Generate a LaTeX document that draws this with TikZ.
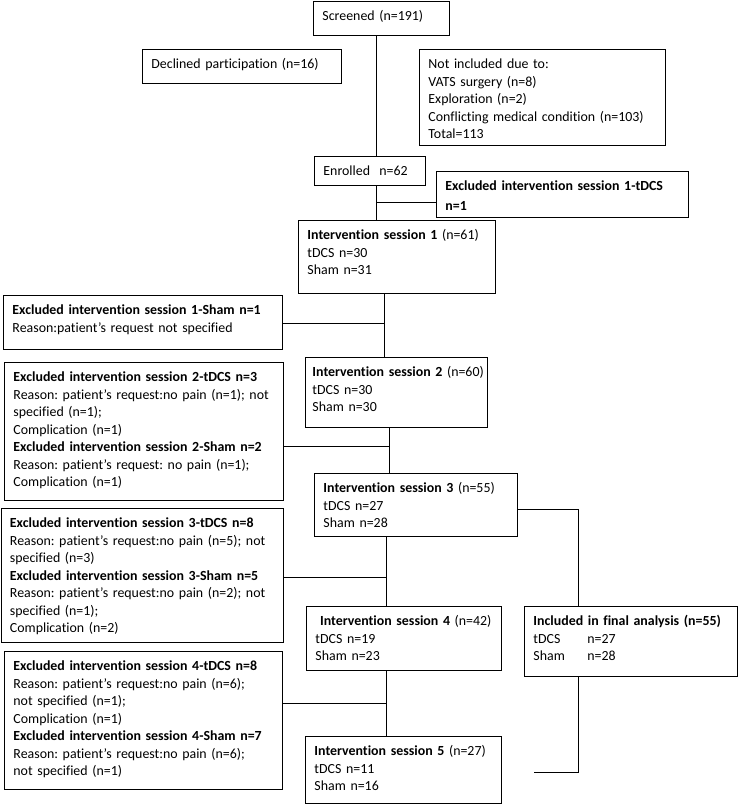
\documentclass[tikz,border=0pt]{standalone}
\usepackage{fontspec}
\setmainfont{Carlito}[Ligatures=NoCommon]

\begin{document}
\begin{tikzpicture}[
        x=1pt, y=-1pt,
        line width=0.9pt,
        box/.style={draw, anchor=north west, align=left, inner xsep=9pt, inner ysep=0pt,
            text height=19.5pt, font=\fontsize{13.9}{17.5}\selectfont\frenchspacing},
        every node/.style={color=black}
    ]
    \useasboundingbox (0,0) rectangle (738,804);

    %% screening and enrolment
    \draw (313,1) node(scr)[box, text width=118pt, text depth=14.5pt]{Screened (n=191)};
    \draw (142,49) node(dec)[box, text width=181pt, text depth=14.5pt]{Declined participation (n=16)};
    \draw (419,49) node(noinc)[box, text width=228pt, text depth=76.5pt]{Not included due to:\\
        VATS surgery (n=8)\\ Exploration (n=2)\\ Conflicting medical condition (n=103)\\ Total=113};
    \draw (314,156) node(enr)[box, text width=93pt, text depth=9.5pt]{Enrolled\ \ n=62};
    \draw (436,171) node(ex1t)[box, text width=234pt, text depth=26.5pt]{\textbf{Excluded intervention session 1-tDCS}\\[2.5pt] \textbf{n=1}};

    %% sessions
    \draw (298,220) node(is1)[box, text width=179pt, text depth=53.5pt]{\textbf{Intervention session 1} (n=61)\\ tDCS n=30\\ Sham n=31};
    \draw (305,357) node(is2)[box, inner xsep=4pt, text width=174pt, text depth=50.5pt]{\hspace*{3pt}\mbox{\textbf{Intervention session 2} (n=60)}\\ \hspace*{3pt}tDCS n=30\\ \hspace*{3pt}Sham n=30};
    \draw (314,473) node(is3)[box, text width=185pt, text depth=43.5pt]{\textbf{Intervention session 3} (n=55)\\ tDCS n=27\\ Sham n=28};
    \draw (306,606) node(is4)[box, text width=177pt, text depth=44.5pt]{\ \textbf{Intervention session 4} (n=42)\\ tDCS n=19\\ Sham n=23};
    \draw (305,736) node(is5)[box, text width=178pt, text depth=47.5pt]{\textbf{Intervention session 5} (n=27)\\ tDCS n=11\\ Sham n=16};
    \draw (524,606) node(fin)[box, text width=194.5pt, text depth=50.5pt]{\textbf{Included in final analysis (n=55)}\\
        \makebox[54pt][l]{tDCS}n=27\\ \makebox[54pt][l]{Sham}n=28};

    %% exclusions
    \draw (3,295) node(ex1s)[box, text width=261pt, text depth=34.5pt]{\textbf{Excluded intervention session 1-Sham n=1}\\
        Reason:patient’s request not specified};
    \draw (4,362) node(ex2)[box, text width=261pt, text depth=118.5pt]{\textbf{Excluded intervention session 2-tDCS n=3}\\
        Reason: patient’s request:no pain (n=1); not\\ specified (n=1);\\ Complication (n=1)\\
        \textbf{Excluded intervention session 2-Sham n=2}\\
        Reason: patient’s request: no pain (n=1);\\ Complication (n=1)};
    \draw (0.5,508) node(ex3)[box, text width=264.5pt, text depth=114.5pt]{\textbf{Excluded intervention session 3-tDCS n=8}\\
        Reason: patient’s request:no pain (n=5); not\\ specified (n=3)\\
        \textbf{Excluded intervention session 3-Sham n=5}\\
        Reason: patient’s request:no pain (n=2); not\\ specified (n=1);\\ Complication (n=2)};
    \draw (4,651) node(ex4)[box, text width=260pt, text depth=118.5pt]{\textbf{Excluded intervention session 4-tDCS n=8}\\
        Reason: patient’s request:no pain (n=6);\\ not specified (n=1);\\ Complication (n=1)\\
        \textbf{Excluded intervention session 4-Sham n=7}\\
        Reason: patient’s request:no pain (n=6);\\ not specified (n=1)};

    %% junctions on the main line
    \coordinate (j1) at (376,202);
    \coordinate (j2) at (384,323);
    \coordinate (j3) at (389,446);
    \coordinate (j4) at (386,577);
    \coordinate (j5) at (386,703);
    \coordinate (r1) at (578,509);
    \coordinate (r2) at (534,772);

    \draw (scr.south -| j1) -- (enr.north -| j1);
    \draw (enr.south -| j1) -- (is1.north -| j1);
    \draw (j1) -- (j1 -| ex1t.west);

    \draw (is1.south -| j2) -- (is2.north -| j2);
    \draw (j2 -| ex1s.east) -- (j2);

    \draw (is2.south -| j3) -- (is3.north -| j3);
    \draw (j3 -| ex2.east) -- (j3);

    \draw (is3.south -| j4) -- (is4.north -| j4);
    \draw (j4 -| ex3.east) -- (j4);

    \draw (is4.south -| j5) -- (is5.north -| j5);
    \draw (j5 -| ex4.east) -- (j5);

    %% side line to the analysis box
    \draw (r1 -| is3.east) -- (r1) -- (fin.north -| r1);
    \draw (fin.south -| r1) -- (r1 |- r2) -- (r2);

\end{tikzpicture}
\end{document}
